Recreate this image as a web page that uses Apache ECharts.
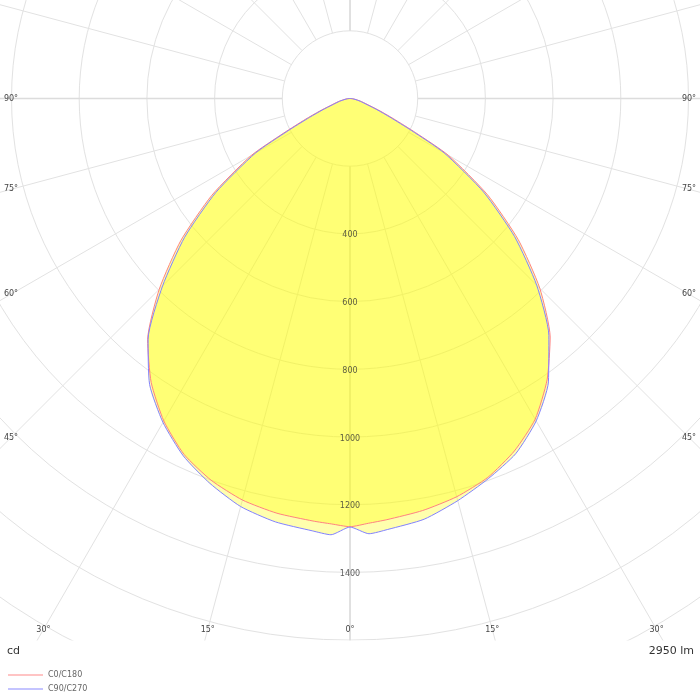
<!DOCTYPE html>
<html>
<head>
<meta charset="utf-8">
<script src="https://cdn.jsdelivr.net/npm/echarts@6/dist/echarts.min.js"></script>
<style>
html,body{margin:0;padding:0;background:#fff}
#main{width:700px;height:700px}
</style>
</head>
<body>
<div id="main"></div>
<script>
// angles from nadir (0 = straight down), degrees
var angles = [0, 2.5, 5, 10, 15, 20, 25, 30, 35, 40, 45, 50, 55, 60, 62.5, 65, 67.5, 70, 75, 80, 85, 90];
// C0 (right half) / C180 (left half), cd
var c0   = [1265,1256,1249,1236,1218,1191,1149,1094,1015,920,793,649,496,335,218,143,96,63,35,18,8,0];
var c180 = [1265,1258,1253,1244,1228,1200,1160,1100,1024,930,797,652,498,337,220,145,97,64,36,18,8,0];
// C90 (right half) / C270 (left half), cd
var c90  = [1266,1287,1278,1262,1230,1195,1158,1100,1022,914,780,635,482,321,204,130,86,55,31,15,7,0];
var c270 = [1266,1290,1282,1270,1248,1210,1165,1105,1032,928,783,638,484,323,206,132,87,56,32,15,7,0];

var ringLabels = [400, 600, 800, 1000, 1200, 1400];
var angleLabels = [0, 15, 30, 45, 60, 75, 90];
var seriesNames = ['C0/C180', 'C90/C270'];
var unitText = 'cd';
var fluxText = '2950 lm';

var cx = 350, cy = 98.5;
var rMax = 2000, rPx = 677;

// left half goes top -> nadir, then right half nadir -> top
function curve(right, left){
    var d = [];
    for (var i = angles.length - 1; i >= 1; i--) d.push([left[i], 360 - angles[i]]);
    for (var j = 0; j < angles.length; j++) d.push([right[j], angles[j]]);
    return d;
}

// angle labels sit where each ray meets the frame
function edgePoint(a, dir){
    var rad = a * Math.PI / 180;
    var s = Math.sin(rad), c = Math.cos(rad);
    var t1 = s > 0.0001 ? 339 / s : 1e9;
    var t2 = c > 0.0001 ? (629.5 - cy) / c : 1e9;
    var t = Math.min(t1, t2);
    return [cx + dir * s * t, cy + c * t];
}

var graphics = [];
graphics.push({type:'rect', z:100, shape:{x:0, y:640.5, width:700, height:60}, style:{fill:'#fff'}});
angleLabels.forEach(function(a){
    var sides = a === 0 ? [1] : [-1, 1];
    sides.forEach(function(dir){
        var p = edgePoint(a, dir);
        graphics.push({type:'text', z:101, x:p[0], y:p[1],
            style:{text:a + '°', font:'8px "DejaVu Sans"', fill:'#444', align:'center', verticalAlign:'middle'}});
    });
});
graphics.push({type:'text', z:101, x:7, y:651,
    style:{text:unitText, font:'11px "DejaVu Sans"', fill:'#333', align:'left', verticalAlign:'middle'}});
graphics.push({type:'text', z:101, x:694, y:651,
    style:{text:fluxText, font:'11px "DejaVu Sans"', fill:'#333', align:'right', verticalAlign:'middle'}});

var splitGrey = '#e2e2e2';
var fillYellow = 'rgba(255,255,0,0.32)';
var chart = echarts.init(document.getElementById('main'));
var option = {
    animation: false,
    backgroundColor: '#fff',
    polar: [
        {center: [cx, cy], radius: [0, rPx]},
        {center: [cx, cy], radius: [rPx * 200 / rMax, rPx]},
        {center: [cx, cy], radius: [rPx * 200 / rMax, rPx]}
    ],
    angleAxis: [
        {polarIndex: 0, type: 'value', min: 0, max: 360, startAngle: 270, clockwise: false, show: false},
        {polarIndex: 1, type: 'value', min: 0, max: 360, interval: 15, startAngle: 270, clockwise: false,
            axisLine: {show: false}, axisTick: {show: false}, axisLabel: {show: false},
            splitLine: {show: true, lineStyle: {width: 1, color: splitGrey}}},
        {polarIndex: 2, type: 'value', min: 0, max: 360, interval: 90, startAngle: 270, clockwise: false,
            axisLine: {show: false}, axisTick: {show: false}, axisLabel: {show: false},
            splitLine: {show: true, lineStyle: {width: 1.6, color: '#dcdcdc'}}}
    ],
    radiusAxis: [
        {polarIndex: 0, type: 'value', min: 0, max: rMax, interval: 200,
            axisLine: {show: false}, axisTick: {show: false}, axisLabel: {show: false},
            splitLine: {show: true, lineStyle: {color: splitGrey, width: 1}}},
        {polarIndex: 1, type: 'value', min: 0, max: rMax, show: false},
        {polarIndex: 2, type: 'value', min: 0, max: rMax, show: false}
    ],
    legend: {
        z: 200,
        orient: 'vertical', left: 3, top: 666, itemGap: 6,
        icon: 'rect', itemWidth: 35, itemHeight: 2,
        textStyle: {fontSize: 8, color: '#666', fontFamily: 'DejaVu Sans'},
        data: [
            {name: seriesNames[0], itemStyle: {color: '#ffc4c4'}},
            {name: seriesNames[1], itemStyle: {color: '#c4c4ff'}}
        ]
    },
    series: [
        {name: seriesNames[0], type: 'line', coordinateSystem: 'polar', polarIndex: 0,
            data: curve(c0, c180), showSymbol: false, smooth: 0.2, z: 3,
            lineStyle: {color: '#ff8282', width: 1}, itemStyle: {color: '#ff8282'},
            areaStyle: {color: fillYellow, opacity: 1}},
        {name: seriesNames[1], type: 'line', coordinateSystem: 'polar', polarIndex: 0,
            data: curve(c90, c270), showSymbol: false, smooth: 0.2, z: 3,
            lineStyle: {color: '#8282ff', width: 1}, itemStyle: {color: '#8282ff'},
            areaStyle: {color: fillYellow, opacity: 1}},
        {name: 'rings', type: 'scatter', coordinateSystem: 'polar', polarIndex: 0, silent: true,
            symbolSize: 0, z: 5,
            data: ringLabels.map(function(v){ return [v, 0]; }),
            label: {show: true, position: 'inside', offset: [0, 1.5], fontSize: 8, color: '#333',
                fontFamily: 'DejaVu Sans',
                formatter: function(p){ return p.value[0]; }}}
    ],
    graphic: graphics
};
chart.setOption(option);
</script>
</body>
</html>
